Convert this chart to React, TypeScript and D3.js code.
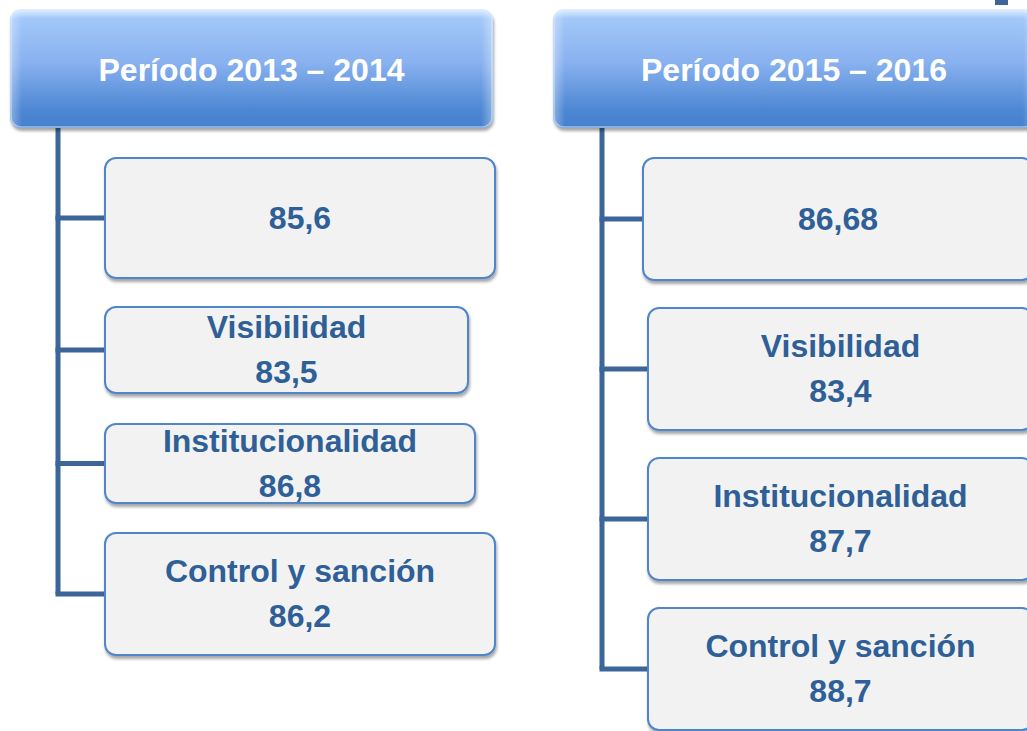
import { line } from "d3";

// data
const periods = ["Período 2013 – 2014", "Período 2015 – 2016"];
const dimensions = ["", "Visibilidad", "Institucionalidad", "Control y sanción"];
const values2013 = ["85,6", "83,5", "86,8", "86,2"];
const values2015 = ["86,68", "83,4", "87,7", "88,7"];

// layout (pixels), kept apart from the data
const headerBoxes = [
    { x: 10, y: 9, w: 483, h: 119 },
    { x: 553, y: 9, w: 482, h: 119 },
];
const trunkX = [58, 602];
const childBoxes = [
    [
        { x: 105, y: 158, w: 390, h: 120 },
        { x: 105, y: 307, w: 363, h: 86 },
        { x: 105, y: 424, w: 370, h: 79 },
        { x: 105, y: 533, w: 390, h: 122 },
    ],
    [
        { x: 643, y: 158, w: 390, h: 122 },
        { x: 648, y: 308, w: 385, h: 122 },
        { x: 648, y: 458, w: 385, h: 122 },
        { x: 648, y: 608, w: 385, h: 122 },
    ],
];

const FONT = "'Liberation Sans', Arial, sans-serif";
const LINE_COLOR = "#3c6599";
const TEXT_COLOR = "#2e6097";

const path = line<[number, number]>();

export default function App() {
    const columns = [values2013, values2015];

    return (
        <svg
            width={1027}
            height={731}
            style={{ position: "absolute", left: 0, top: 0, background: "#fff" }}
            fontFamily={FONT}
        >
            <defs>
                <linearGradient id="hdr" x1="0" y1="0" x2="0" y2="1">
                    <stop offset="0" stopColor="#e4f3ff" />
                    <stop offset="0.08" stopColor="#a3c7f9" />
                    <stop offset="0.45" stopColor="#88b1ef" />
                    <stop offset="0.85" stopColor="#4d87d3" />
                    <stop offset="1" stopColor="#4780cc" />
                </linearGradient>
                <linearGradient id="hdrSide" x1="0" y1="0" x2="1" y2="0">
                    <stop offset="0" stopColor="#ffffff" stopOpacity="0.35" />
                    <stop offset="0.025" stopColor="#ffffff" stopOpacity="0" />
                    <stop offset="0.975" stopColor="#ffffff" stopOpacity="0" />
                    <stop offset="1" stopColor="#ffffff" stopOpacity="0.35" />
                </linearGradient>
                <filter id="shadow" x="-5%" y="-10%" width="110%" height="130%">
                    <feDropShadow dx="1" dy="3" stdDeviation="1.6" floodColor="#000" floodOpacity="0.35" />
                </filter>
            </defs>

            {/* bit of a connector coming from above, clipped at the top edge */}
            <rect x={995} y={0} width={13} height={5} fill={LINE_COLOR} />

            {columns.map((vals, ci) => {
                const hb = headerBoxes[ci];
                const boxes = childBoxes[ci];
                const tx = trunkX[ci];
                const lastY = boxes[boxes.length - 1].y + boxes[boxes.length - 1].h / 2;
                return (
                    <g key={`col-${ci}`}>
                        {/* connectors */}
                        <path
                            d={path([[tx, hb.y + hb.h], [tx, lastY]]) ?? ""}
                            stroke={LINE_COLOR}
                            strokeWidth={5}
                            fill="none"
                        />
                        {boxes.map((b, i) => (
                            <path
                                key={`br-${i}`}
                                d={path([[tx - 2.5, b.y + b.h / 2], [b.x, b.y + b.h / 2]]) ?? ""}
                                stroke={LINE_COLOR}
                                strokeWidth={5}
                                fill="none"
                            />
                        ))}

                        {/* header */}
                        <g filter="url(#shadow)">
                            <rect x={hb.x} y={hb.y} width={hb.w} height={hb.h} rx={11} fill="url(#hdr)" />
                        </g>
                        <rect x={hb.x} y={hb.y} width={hb.w} height={hb.h} rx={11} fill="url(#hdrSide)" />
                        <rect
                            x={hb.x + 1}
                            y={hb.y + 1}
                            width={hb.w - 2}
                            height={hb.h - 2}
                            rx={10}
                            fill="none"
                            stroke="#d6ebff"
                            strokeOpacity={0.6}
                            strokeWidth={1.5}
                        />
                        <text
                            x={hb.x + hb.w / 2}
                            y={hb.y + hb.h / 2 + 12}
                            textAnchor="middle"
                            fontSize={32}
                            fontWeight="bold"
                            fill="#fff"
                        >
                            {periods[ci]}
                        </text>

                        {/* children */}
                        {boxes.map((b, i) => {
                            const cx = b.x + b.w / 2;
                            const cy = b.y + b.h / 2;
                            const label = dimensions[i];
                            return (
                                <g key={`box-${i}`}>
                                    <rect
                                        x={b.x}
                                        y={b.y}
                                        width={b.w}
                                        height={b.h}
                                        rx={11}
                                        fill="#f2f2f2"
                                        stroke="#4f86cb"
                                        strokeWidth={2}
                                        filter="url(#shadow)"
                                    />
                                    {label ? (
                                        <>
                                            <text x={cx} y={cy - 12} textAnchor="middle" fontSize={32} fontWeight="bold" fill={TEXT_COLOR}>
                                                {label}
                                            </text>
                                            <text x={cx} y={cy + 33} textAnchor="middle" fontSize={32} fontWeight="bold" fill={TEXT_COLOR}>
                                                {vals[i]}
                                            </text>
                                        </>
                                    ) : (
                                        <text x={cx} y={cy + 11} textAnchor="middle" fontSize={32} fontWeight="bold" fill={TEXT_COLOR}>
                                            {vals[i]}
                                        </text>
                                    )}
                                </g>
                            );
                        })}
                    </g>
                );
            })}
        </svg>
    );
}
